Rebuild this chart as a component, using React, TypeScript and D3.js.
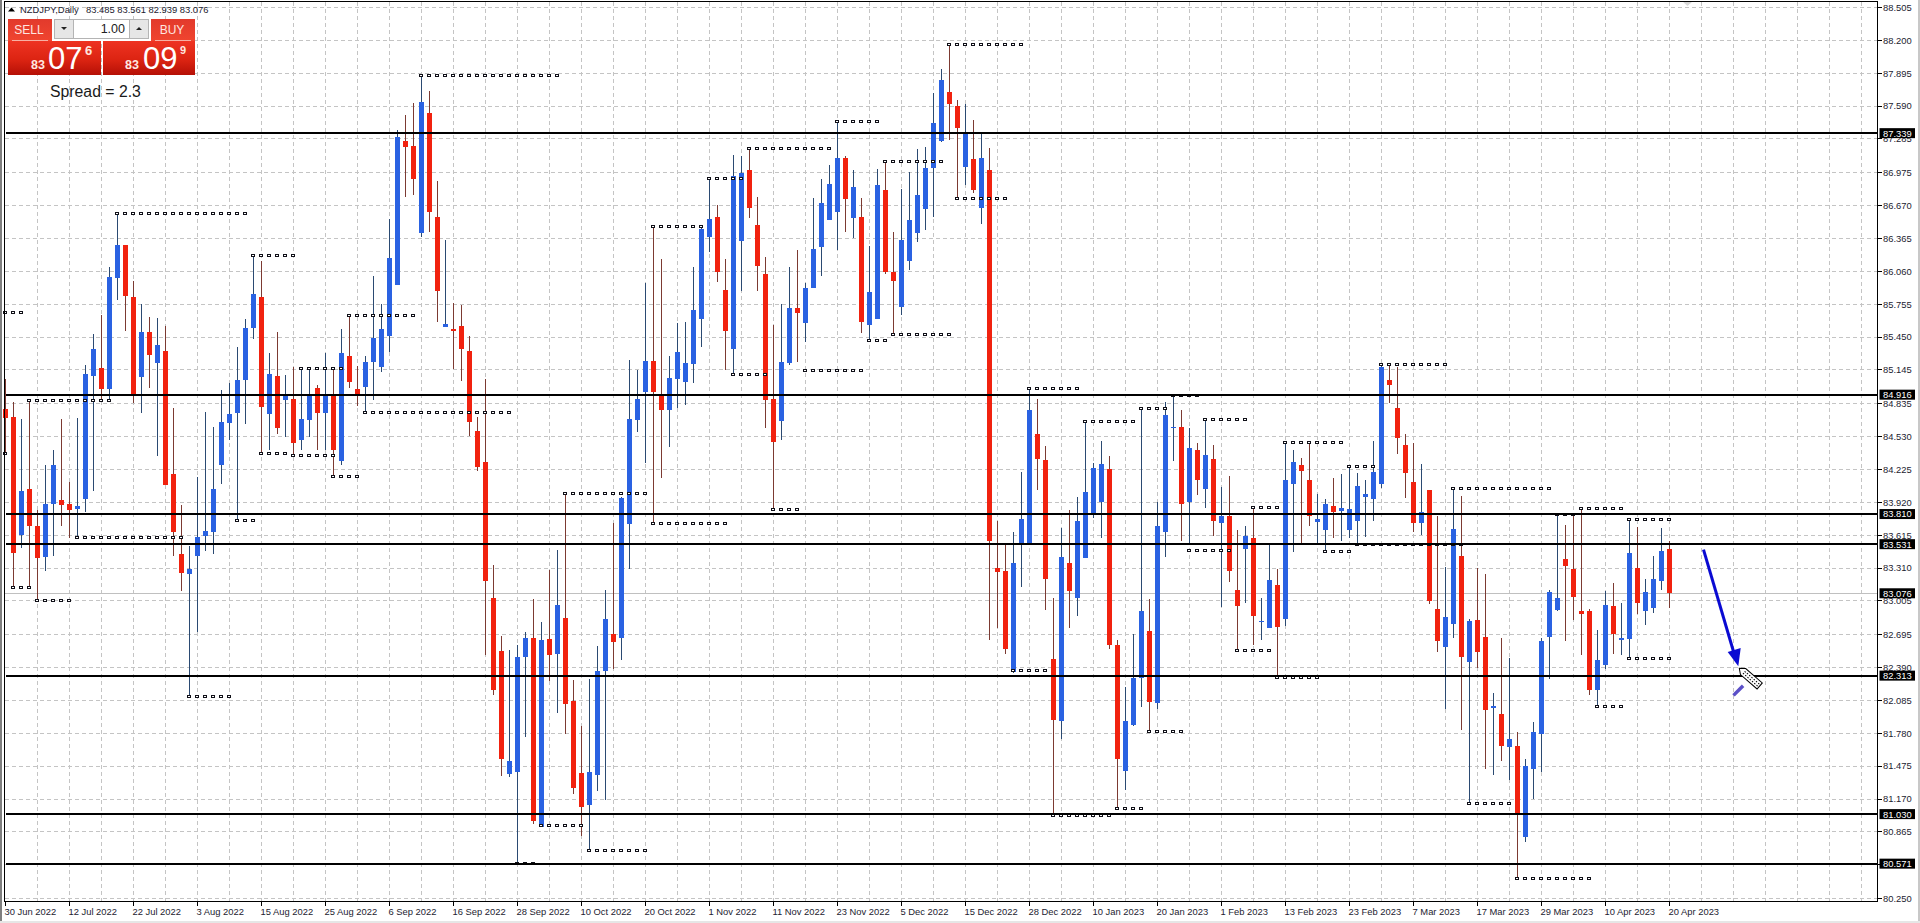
import * as d3 from "d3";

const width = 1920;
const height = 923;

// daily NZDJPY bars
const highs = [
  85.06,84.85,84.69,84.86,83.85,84.26,84.40,84.69,84.11,84.70,
  85.19,85.48,85.65,86.10,86.59,86.30,85.97,85.76,85.64,85.63,
  85.55,84.79,83.89,83.51,84.15,84.76,84.62,84.96,85.02,85.36,
  85.62,86.21,86.15,85.30,85.50,85.10,85.17,85.16,85.15,85.01,
  85.30,85.15,85.52,85.65,85.18,85.27,86.02,85.76,86.54,87.37,
  87.51,87.62,87.87,87.73,86.90,86.35,85.77,85.75,85.46,84.71,
  85.06,83.34,82.68,82.55,82.60,82.72,83.02,82.81,83.29,83.48,
  84.00,82.27,81.85,82.28,82.59,83.11,83.73,83.97,85.24,85.14,
  85.95,86.47,86.17,85.27,85.58,85.59,86.10,86.47,86.92,86.67,
  86.17,87.14,87.13,87.20,86.75,86.19,85.56,85.76,86.10,86.26,
  85.95,86.74,86.91,87.04,87.45,87.13,87.00,86.74,86.29,87.01,
  87.08,86.42,86.82,86.98,87.19,87.21,87.71,87.93,88.16,87.65,
  87.61,87.46,87.34,87.20,83.75,83.52,83.64,84.20,84.99,84.88,
  84.44,83.03,83.68,83.85,83.97,84.67,84.28,84.49,84.35,82.64,
  82.21,82.70,84.79,83.02,83.92,84.85,84.91,84.77,84.61,84.47,
  84.69,84.45,84.06,84.16,83.66,83.70,83.87,83.03,83.53,83.30,
  84.47,84.40,84.33,84.47,84.00,83.95,84.14,84.18,84.25,84.19,
  84.13,84.49,85.20,85.20,85.17,84.55,84.47,84.27,84.03,83.79,
  83.32,84.05,83.98,82.84,83.31,83.25,82.15,82.66,82.48,81.79,
  81.54,81.88,82.66,83.11,83.81,83.71,83.81,83.86,82.93,82.74,
  83.10,83.17,82.99,83.76,83.69,83.21,83.42,83.68,83.561,
];

const lows = [
  84.38,83.13,83.50,83.13,83.01,83.28,83.42,83.70,83.59,83.59,
  83.83,84.02,84.88,84.85,85.79,85.51,84.84,84.75,84.98,84.35,
  84.08,83.42,83.10,82.12,82.72,83.47,83.44,84.09,84.50,83.75,
  84.64,85.43,84.37,84.40,84.55,84.52,84.35,84.40,84.52,84.40,
  84.40,84.16,84.26,84.98,84.81,84.75,84.87,85.13,85.31,85.93,
  86.75,86.77,86.38,86.42,85.59,85.54,85.15,85.04,84.53,84.21,
  82.50,82.13,81.38,81.37,80.57,81.74,80.94,80.91,82.26,81.97,
  81.77,81.22,80.83,80.69,81.24,81.16,82.37,82.46,83.30,84.57,
  84.28,83.72,84.14,84.43,84.79,84.82,85.02,85.36,86.24,85.96,
  85.14,85.10,85.88,86.55,85.88,84.61,83.85,84.50,85.19,85.22,
  85.40,85.90,86.02,86.53,86.26,86.42,86.37,85.49,85.42,85.62,
  86.03,85.47,85.65,86.07,86.33,86.44,86.56,87.26,87.28,86.73,
  86.86,86.78,86.50,82.64,82.75,82.51,82.34,83.13,83.52,84.03,
  82.92,81.03,81.73,82.75,82.87,83.40,83.77,83.59,82.56,81.08,
  81.25,81.85,82.02,81.80,82.00,83.41,84.30,83.56,83.54,83.99,
  83.87,83.61,82.95,83.18,82.55,82.99,82.60,82.64,82.75,82.31,
  82.77,83.46,83.54,83.70,83.54,83.46,83.59,83.56,83.59,83.54,
  83.60,83.75,84.05,84.84,84.37,83.96,83.64,83.62,82.98,82.53,
  82.00,82.66,81.81,81.13,82.38,81.45,81.39,81.52,81.35,80.43,
  80.77,81.17,81.42,82.28,82.91,82.63,82.83,82.50,82.13,82.03,
  82.37,82.51,82.50,82.47,82.88,82.78,82.89,83.11,82.939,
];

const opens = [
  84.78,84.71,83.62,84.04,83.70,83.41,83.90,83.94,83.90,83.86,
  83.95,85.09,85.16,84.97,86.00,86.30,85.82,85.08,85.50,85.21,
  85.32,84.18,83.44,83.25,83.42,83.61,83.64,84.26,84.65,84.75,
  85.05,85.53,85.82,84.74,85.09,84.87,84.88,84.50,84.68,84.98,
  84.75,84.91,84.30,85.27,84.97,84.99,85.22,85.17,85.46,85.93,
  87.27,87.22,86.41,87.53,86.56,85.54,85.52,85.55,85.32,84.58,
  84.29,83.03,82.54,81.40,81.42,82.49,82.66,80.91,82.65,82.51,
  82.85,82.08,81.41,81.11,81.39,82.36,82.70,82.66,83.72,84.68,
  84.94,85.23,84.91,84.77,85.06,85.03,85.20,85.62,86.38,86.56,
  85.89,85.34,86.34,87.00,86.49,86.03,84.88,84.67,85.21,85.72,
  85.58,85.90,86.28,86.53,86.61,87.11,86.55,86.56,85.56,85.62,
  86.81,86.05,85.73,86.15,86.41,86.64,87.02,87.27,87.72,87.59,
  87.03,87.10,86.65,87.00,83.31,83.28,82.35,83.54,83.52,84.55,
  84.31,82.47,81.89,83.36,83.03,83.40,83.82,83.92,84.23,82.60,
  81.43,81.86,82.29,82.73,82.06,83.64,84.61,84.62,83.92,84.40,
  84.04,84.32,83.73,83.79,83.11,83.49,83.59,82.81,82.75,83.15,
  82.84,84.09,84.26,84.13,83.74,83.66,83.88,83.84,83.66,83.75,
  83.97,83.95,84.09,85.05,84.79,84.45,84.11,83.73,84.03,82.93,
  82.58,82.79,83.42,82.44,82.83,82.67,82.01,81.96,81.65,81.66,
  80.82,81.45,81.77,82.67,82.92,83.39,83.30,82.91,82.91,82.18,
  82.41,82.96,82.64,82.65,83.31,82.91,82.94,83.19,83.485,
];

const closes = [
  84.70,83.45,84.02,83.70,83.40,83.90,84.26,83.89,83.85,83.88,
  85.11,85.34,84.97,86.01,86.30,85.83,84.92,85.50,85.28,85.38,
  84.08,83.64,83.26,83.30,83.60,83.65,84.04,84.66,84.74,85.05,
  85.53,85.85,84.80,85.11,84.61,84.91,84.47,84.69,84.91,84.75,
  84.91,84.40,85.30,85.03,84.91,85.22,85.44,85.52,86.18,87.30,
  87.21,86.91,87.63,86.61,85.88,85.57,85.51,85.34,84.66,84.25,
  83.19,82.18,81.54,81.52,82.49,82.66,80.97,82.64,82.50,82.97,
  82.05,81.27,81.10,81.42,82.36,82.84,82.62,83.96,84.69,84.88,
  85.23,84.94,84.77,85.07,85.31,85.21,85.70,86.45,86.54,86.05,
  85.51,86.94,86.97,86.65,86.11,84.87,84.48,85.22,85.72,85.67,
  85.90,86.27,86.69,86.87,87.11,86.73,86.84,85.59,85.87,86.86,
  86.05,85.97,86.35,86.53,86.77,87.02,87.43,87.83,87.61,87.39,
  87.34,86.81,87.11,83.56,83.27,82.56,83.36,83.76,84.77,84.32,
  83.21,81.90,83.41,83.10,83.75,84.01,84.24,84.27,82.60,81.54,
  81.89,82.29,82.91,82.07,83.70,84.73,84.62,83.90,84.42,84.13,
  84.36,83.75,83.79,83.28,82.96,83.61,82.87,82.82,83.20,82.76,
  84.13,84.29,84.21,83.79,83.76,83.90,83.83,83.87,83.86,84.07,
  84.00,84.20,85.17,85.01,84.51,84.19,83.73,83.83,83.00,82.63,
  82.86,83.67,82.49,82.82,82.53,81.99,82.03,81.66,81.73,81.04,
  81.48,81.79,82.63,83.09,83.03,83.33,83.04,82.88,82.18,82.46,
  82.97,82.70,82.66,83.45,82.99,83.09,83.21,83.47,83.076,
];

// dotted high/low markers: first bar, last bar, price
const dottedLevels: [number, number, number][] = [
  [0,2,85.68],[0,0,84.37],[1,3,83.13],[3,13,84.86],[4,8,83.01],[9,22,83.59],
  [14,30,86.59],[23,28,82.12],[29,31,83.75],[31,36,86.21],[32,35,84.37],[36,41,84.35],
  [37,42,85.16],[41,44,84.16],[43,51,85.65],[45,63,84.75],[52,69,87.87],
  [64,66,80.57],[67,72,80.92],[70,80,84.00],[73,80,80.69],[81,87,86.47],[81,90,83.72],
  [88,92,86.92],[91,95,85.10],[93,103,87.20],[96,99,83.85],[100,107,85.14],[104,109,87.45],
  [108,110,85.42],[110,117,87.08],[111,118,85.47],[118,127,88.16],[119,125,86.73],[126,130,82.36],
  [128,134,84.97],[131,138,81.02],[135,141,84.67],[139,142,81.08],[142,145,84.79],[143,147,81.80],
  [146,149,84.91],[148,153,83.47],[150,155,84.69],[154,158,82.55],[156,159,83.87],[159,164,82.30],
  [160,162,84.47],[163,167,84.47],[165,168,83.46],[168,171,84.25],[169,182,83.53],[172,180,85.20],
  [181,193,84.05],[183,188,81.13],[189,198,80.43],[194,196,83.81],[197,202,83.86],[199,202,82.03],
  [203,208,83.76],[203,208,82.47],
];

const levelPrices = [87.339, 84.916, 83.81, 83.531, 82.313, 81.03, 80.571];
const lastPrice = 83.076;

const priceTicks = [
  88.505,88.2,87.895,87.59,87.285,86.975,86.67,86.365,86.06,85.755,85.45,85.145,84.835,84.53,
  84.225,83.92,83.615,83.31,83.005,82.695,82.39,82.085,81.78,81.475,81.17,80.865,80.56,80.25,
];

const dateLabels = [
  "30 Jun 2022","12 Jul 2022","22 Jul 2022","3 Aug 2022","15 Aug 2022","25 Aug 2022","6 Sep 2022",
  "16 Sep 2022","28 Sep 2022","10 Oct 2022","20 Oct 2022","1 Nov 2022","11 Nov 2022","23 Nov 2022",
  "5 Dec 2022","15 Dec 2022","28 Dec 2022","10 Jan 2023","20 Jan 2023","1 Feb 2023","13 Feb 2023",
  "23 Feb 2023","7 Mar 2023","17 Mar 2023","29 Mar 2023","10 Apr 2023","20 Apr 2023",
];

// hand drawn arrow on the chart, in bar index / price
const arrowBars = [212.25, 216.6];
const arrowPrices = [83.48, 82.4];
const strokeBars = [216, 217.2];
const strokePrices = [82.13, 82.22];

const plot = { left: 4.5, top: 1.5, right: 1877.5, bottom: 901.5 };

const x = d3.scaleLinear().domain([0, 208]).range([5.5, 1669.5]);
const y = d3.scaleLinear().domain([88.505, 80.25]).range([7.3, 898.3]);

const labelFont = "'Liberation Sans', Arial, sans-serif";
const inkColor = "#1c2230";
const gridColor = "#c4c4c4";
const blue = "#2a62e2";
const red = "#f1220f";
const blueWick = "#2b4a72";
const redWick = "#7c3a32";

const crisp = (v: number) => Math.round(v - 0.5) + 0.5;

const barIndex = d3.range(opens.length);
const gridBars = d3.range(4, 236, 4);
const tickBars = dateLabels.map((_, i) => i * 8);

function TradePanel() {
  return (
    <g fontFamily={labelFont}>
      <rect x={8} y={19} width={44} height={22} fill="url(#panelTop)" />
      <rect x={151} y={19} width={44} height={22} fill="url(#panelTop)" />
      <rect x={8} y={41} width={93} height={34} fill="url(#panelBottom)" />
      <rect x={103} y={41} width={92} height={34} fill="url(#panelBottom)" />
      <rect x={52} y={19} width={99} height={22} fill="#fff" />
      <line x1={12} x2={48} y1={40.5} y2={40.5} stroke="#f7b0a4" />
      <line x1={155} x2={191} y1={40.5} y2={40.5} stroke="#f7b0a4" />
      <text x={29} y={34} fontSize={12} textAnchor="middle" fill="#ffe6e0">SELL</text>
      <text x={172} y={34} fontSize={12} textAnchor="middle" fill="#ffe6e0">BUY</text>
      <rect x={54.5} y={19.5} width={94} height={19} fill="#fff" stroke="#b4b4b4" />
      <rect x={54.5} y={19.5} width={19} height={19} fill="#e6e6e6" stroke="#b4b4b4" />
      <rect x={129.5} y={19.5} width={19} height={19} fill="#e6e6e6" stroke="#b4b4b4" />
      <path d="M61,27 h6 l-3,3 z" fill="#222" />
      <path d="M136,30 h6 l-3,-3 z" fill="#222" />
      <text x={125} y={33} fontSize={12.5} textAnchor="end" fill="#222">1.00</text>

      <g fill="#fff">
        <text x={31} y={69} fontSize={12.5} fontWeight="bold" fill="#ffe8e0">83</text>
        <text x={48} y={69} fontSize={31}>07</text>
        <text x={85} y={55} fontSize={13} fontWeight="bold" fill="#ffe8e0">6</text>
        <text x={125} y={69} fontSize={12.5} fontWeight="bold" fill="#ffe8e0">83</text>
        <text x={143} y={69} fontSize={31}>09</text>
        <text x={180} y={54} fontSize={11} fontWeight="bold" fill="#ffe8e0">9</text>
      </g>
      <text x={50} y={97} fontSize={15.8} fill="#1a1a1a">Spread = 2.3</text>
    </g>
  );
}

export default function App() {
  const tipX = x(arrowBars[1]);
  const tipY = y(arrowPrices[1]);

  return (
    <svg
      width={width}
      height={height}
      style={{ position: "fixed", left: 0, top: 0, background: "#fff" }}
    >
      <defs>
        <linearGradient id="panelTop" x1="0" x2="0" y1="0" y2="1">
          <stop offset="0" stopColor="#e23a2c" />
          <stop offset="1" stopColor="#f0452f" />
        </linearGradient>
        <linearGradient id="panelBottom" x1="0" x2="0" y1="0" y2="1">
          <stop offset="0" stopColor="#ee3322" />
          <stop offset="0.55" stopColor="#dc2412" />
          <stop offset="1" stopColor="#b51006" />
        </linearGradient>
      </defs>

      {/* window edges */}
      <rect x={0} y={0} width={2} height={height} fill="#7f7f7f" />
      <rect x={1918} y={0} width={2} height={height} fill="#c8c8c8" />
      <rect x={0} y={921} width={width} height={2} fill="#e6e6e6" />

      {/* grid */}
      <g stroke={gridColor} strokeDasharray="4 3" shapeRendering="crispEdges">
        {gridBars.map((b) => (
          <line key={b} x1={x(b)} x2={x(b)} y1={plot.top} y2={plot.bottom} />
        ))}
        {priceTicks.map((p) => (
          <line key={p} x1={plot.left} x2={plot.right} y1={crisp(y(p))} y2={crisp(y(p))} />
        ))}
      </g>

      {/* small shift marker at the top */}
      <path d="M1682,1 h11 l-5.5,5 z" fill="#d8d8d8" />

      {/* last price line */}
      <line
        x1={plot.left}
        x2={plot.right}
        y1={crisp(y(lastPrice))}
        y2={crisp(y(lastPrice))}
        stroke="#c0c0c0"
        shapeRendering="crispEdges"
      />

      {/* candles */}
      <g shapeRendering="crispEdges">
        {barIndex.map((i) => {
          const up = closes[i] >= opens[i];
          const top = y(Math.max(opens[i], closes[i]));
          const bottom = y(Math.min(opens[i], closes[i]));
          return (
            <g key={i}>
              <line
                x1={x(i)}
                x2={x(i)}
                y1={y(highs[i])}
                y2={y(lows[i])}
                stroke={up ? blueWick : redWick}
              />
              <rect
                x={x(i) - 2.5}
                y={top}
                width={5}
                height={Math.max(bottom - top, 1.5)}
                fill={up ? blue : red}
              />
            </g>
          );
        })}
      </g>

      {/* dotted markers */}
      <g fill="#fff" stroke="#101018" strokeWidth={1} shapeRendering="crispEdges">
        {dottedLevels.map(([a, b, p], k) =>
          d3.range(a, b + 1).map((i) => (
            <rect key={`${k}-${i}`} x={x(i) - 2} y={crisp(y(p)) - 1} width={3} height={2} />
          ))
        )}
      </g>

      {/* horizontal levels */}
      <g stroke="#000" strokeWidth={2} shapeRendering="crispEdges">
        {levelPrices.map((p) => (
          <line key={p} x1={plot.left + 1} x2={plot.right} y1={y(p)} y2={y(p)} />
        ))}
      </g>

      {/* arrow */}
      <line
        x1={x(arrowBars[0])}
        y1={y(arrowPrices[0])}
        x2={tipX - 4}
        y2={tipY - 12}
        stroke="#0a0ad2"
        strokeWidth={3}
      />
      <path d={`M${tipX},${tipY} l-10.6,-14.3 l13,-4 z`} fill="#0a0ad2" />
      <line
        x1={x(strokeBars[0])}
        y1={y(strokePrices[0])}
        x2={x(strokeBars[1])}
        y2={y(strokePrices[1])}
        stroke="#5b50c8"
        strokeWidth={3.5}
      />
      <g transform={`translate(${tipX + 1},${tipY + 2}) rotate(41)`}>
        <path d="M0,0 L5,-4 L27,-4 L27,4 L5,4 Z" fill="#fff" stroke="#000" />
        <line x1={6} x2={26} y1={-1.2} y2={-1.2} stroke="#000" strokeDasharray="1.5 1.5" />
        <line x1={6} x2={26} y1={1.4} y2={1.4} stroke="#000" strokeDasharray="1.5 1.5" />
      </g>

      {/* frame */}
      <rect
        x={plot.left}
        y={plot.top}
        width={plot.right - plot.left}
        height={plot.bottom - plot.top}
        fill="none"
        stroke="#000"
        shapeRendering="crispEdges"
      />

      {/* price axis */}
      <g fontFamily={labelFont} fontSize={9.4} fill={inkColor}>
        {priceTicks.map((p) => (
          <g key={p}>
            <line
              x1={plot.right}
              x2={plot.right + 4}
              y1={crisp(y(p))}
              y2={crisp(y(p))}
              stroke="#000"
              shapeRendering="crispEdges"
            />
            <text x={1883} y={y(p) + 3.4}>{p.toFixed(3)}</text>
          </g>
        ))}
      </g>
      <g fontFamily={labelFont} fontSize={9.4}>
        {[...levelPrices, lastPrice].map((p) => (
          <g key={p}>
            <rect x={1879.5} y={y(p) - 5} width={35.5} height={10} fill="#000" />
            <text x={1883} y={y(p) + 3.4} fill="#fff">{p.toFixed(3)}</text>
          </g>
        ))}
      </g>

      {/* time axis */}
      <g fontFamily={labelFont} fontSize={9.4} fill={inkColor}>
        {tickBars.map((b, i) => (
          <g key={b}>
            <line x1={x(b)} x2={x(b)} y1={plot.bottom} y2={plot.bottom + 4} stroke="#000" shapeRendering="crispEdges" />
            <text x={x(b) - 1} y={plot.bottom + 13}>{dateLabels[i]}</text>
          </g>
        ))}
      </g>

      {/* symbol line and trade panel */}
      <g fontFamily={labelFont} fontSize={9.4} fill={inkColor}>
        <path d="M8,11.5 h7 l-3.5,-4 z" fill="#000" />
        <text x={20} y={12.5}>NZDJPY,Daily</text>
        <text x={86} y={12.5}>83.485 83.561 82.939 83.076</text>
      </g>
      <TradePanel />
    </svg>
  );
}
